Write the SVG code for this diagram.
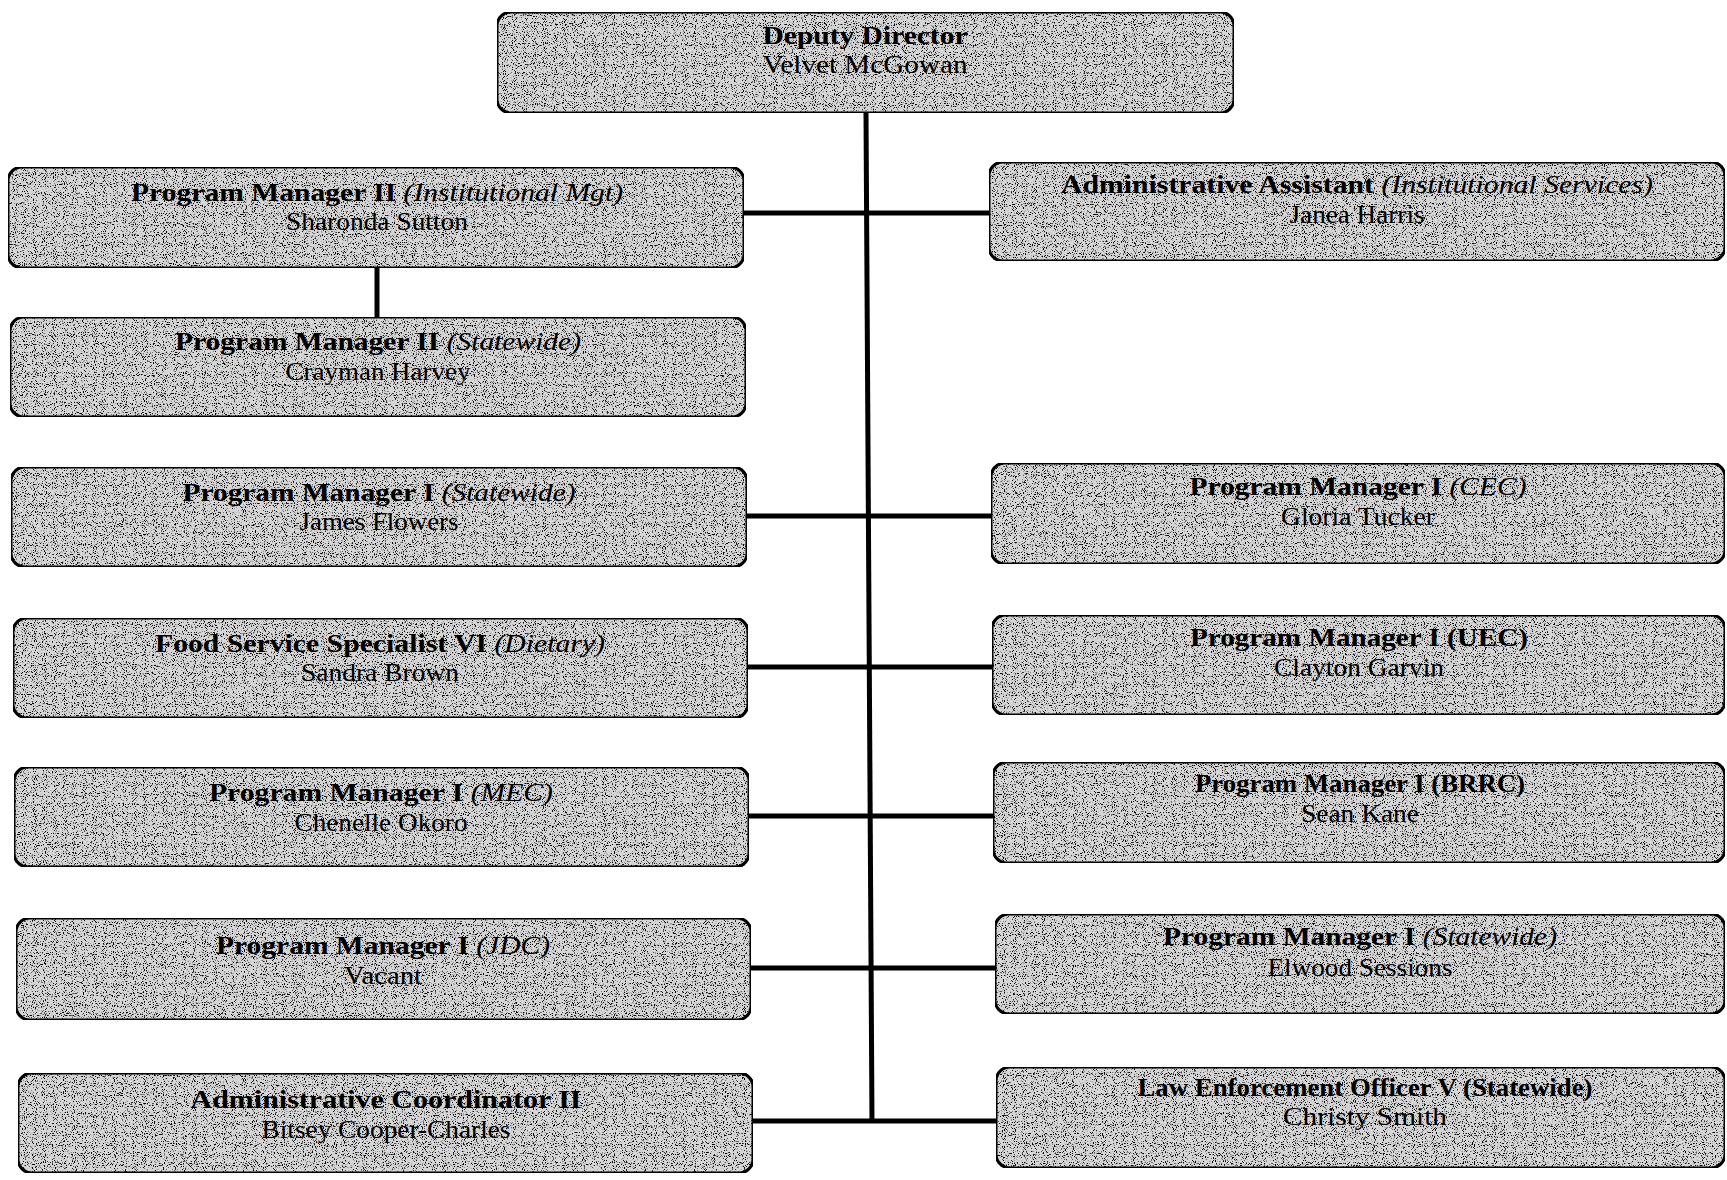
<svg xmlns="http://www.w3.org/2000/svg" width="1727" height="1180" viewBox="0 0 1727 1180">
<defs>
<filter id="stipple" x="0" y="0" width="100%" height="100%" color-interpolation-filters="sRGB">
<feTurbulence type="fractalNoise" baseFrequency="0.9" numOctaves="1" seed="7" result="noise"/>
<feColorMatrix in="noise" type="matrix" values="0 0 0 0 0  0 0 0 0 0  0 0 0 0 0  9 0 0 0 -5" result="dots"/>
<feComposite in="dots" in2="SourceGraphic" operator="in" result="clipped"/>
<feMerge><feMergeNode in="SourceGraphic"/><feMergeNode in="clipped"/></feMerge>
</filter>
</defs>
<style>
.box{fill:#d6d6d6;stroke:#000;stroke-width:3;filter:url(#stipple)}
.t{font-family:"Liberation Serif","Times New Roman",serif;font-size:25px;text-anchor:middle;fill:#000}
.b{font-weight:bold}
.i{font-style:italic;font-weight:normal}
.c{stroke:#000;fill:none;stroke-width:5}
</style>
<rect width="1727" height="1180" fill="#fff"/>
<g id="connectors">
<line class="c" x1="866" y1="113" x2="872" y2="1123" stroke-width="6"/>
<line class="c" x1="377" y1="268" x2="377" y2="317" stroke-width="4"/>
<line class="c" x1="744" y1="213" x2="989" y2="213"/>
<line class="c" x1="747" y1="516" x2="991" y2="516"/>
<line class="c" x1="748" y1="667" x2="992" y2="667"/>
<line class="c" x1="749" y1="816" x2="993" y2="816"/>
<line class="c" x1="751" y1="968" x2="995" y2="968"/>
<line class="c" x1="753" y1="1121" x2="996" y2="1121"/>
</g>
<g id="deputy-director">
<rect class="box" x="497" y="12" width="737" height="101" rx="14"/>
<text class="t b" x="865" y="44" textLength="205" lengthAdjust="spacingAndGlyphs">Deputy Director</text>
<text class="t" x="865" y="73" textLength="205" lengthAdjust="spacingAndGlyphs">Velvet McGowan</text>
</g>
<g id="pm2-institutional">
<rect class="box" x="8" y="167" width="736" height="101" rx="14"/>
<text class="t b" x="377" y="201" textLength="492" lengthAdjust="spacingAndGlyphs">Program Manager II <tspan class="i">(Institutional Mgt)</tspan></text>
<text class="t" x="377" y="230" textLength="182" lengthAdjust="spacingAndGlyphs">Sharonda Sutton</text>
</g>
<g id="pm2-statewide">
<rect class="box" x="10" y="317" width="736" height="100" rx="14"/>
<text class="t b" x="378" y="350" textLength="406" lengthAdjust="spacingAndGlyphs">Program Manager II <tspan class="i">(Statewide)</tspan></text>
<text class="t" x="378" y="380" textLength="185" lengthAdjust="spacingAndGlyphs">Crayman Harvey</text>
</g>
<g id="pm1-statewide-flowers">
<rect class="box" x="11" y="467" width="736" height="100" rx="14"/>
<text class="t b" x="379" y="501" textLength="393" lengthAdjust="spacingAndGlyphs">Program Manager I <tspan class="i">(Statewide)</tspan></text>
<text class="t" x="379" y="530" textLength="159" lengthAdjust="spacingAndGlyphs">James Flowers</text>
</g>
<g id="food-service">
<rect class="box" x="13" y="618" width="735" height="100" rx="14"/>
<text class="t b" x="380" y="652" textLength="450" lengthAdjust="spacingAndGlyphs">Food Service Specialist VI <tspan class="i">(Dietary)</tspan></text>
<text class="t" x="380" y="681" textLength="158" lengthAdjust="spacingAndGlyphs">Sandra Brown</text>
</g>
<g id="pm1-mec">
<rect class="box" x="14" y="767" width="735" height="100" rx="14"/>
<text class="t b" x="381" y="801" textLength="344" lengthAdjust="spacingAndGlyphs">Program Manager I <tspan class="i">(MEC)</tspan></text>
<text class="t" x="381" y="831" textLength="173" lengthAdjust="spacingAndGlyphs">Chenelle Okoro</text>
</g>
<g id="pm1-jdc">
<rect class="box" x="16" y="918" width="735" height="102" rx="14"/>
<text class="t b" x="383" y="954" textLength="334" lengthAdjust="spacingAndGlyphs">Program Manager I <tspan class="i">(JDC)</tspan></text>
<text class="t" x="383" y="984" textLength="78" lengthAdjust="spacingAndGlyphs">Vacant</text>
</g>
<g id="admin-coordinator">
<rect class="box" x="18" y="1073" width="735" height="100" rx="14"/>
<text class="t b" x="386" y="1108" textLength="391" lengthAdjust="spacingAndGlyphs">Administrative Coordinator II</text>
<text class="t" x="386" y="1138" textLength="249" lengthAdjust="spacingAndGlyphs">Bitsey Cooper-Charles</text>
</g>
<g id="admin-assistant">
<rect class="box" x="989" y="162" width="736" height="99" rx="14"/>
<text class="t b" x="1357" y="193" textLength="592" lengthAdjust="spacingAndGlyphs">Administrative Assistant <tspan class="i">(Institutional Services)</tspan></text>
<text class="t" x="1357" y="223" textLength="135" lengthAdjust="spacingAndGlyphs">Janea Harris</text>
</g>
<g id="pm1-cec">
<rect class="box" x="991" y="463" width="734" height="101" rx="14"/>
<text class="t b" x="1358" y="495" textLength="337" lengthAdjust="spacingAndGlyphs">Program Manager I <tspan class="i">(CEC)</tspan></text>
<text class="t" x="1358" y="525" textLength="154" lengthAdjust="spacingAndGlyphs">Gloria Tucker</text>
</g>
<g id="pm1-uec">
<rect class="box" x="992" y="615" width="733" height="100" rx="14"/>
<text class="t b" x="1359" y="646" textLength="338" lengthAdjust="spacingAndGlyphs">Program Manager I (UEC)</text>
<text class="t" x="1359" y="676" textLength="170" lengthAdjust="spacingAndGlyphs">Clayton Garvin</text>
</g>
<g id="pm1-brrc">
<rect class="box" x="993" y="762" width="732" height="101" rx="14"/>
<text class="t b" x="1360" y="792" textLength="330" lengthAdjust="spacingAndGlyphs">Program Manager I (BRRC)</text>
<text class="t" x="1360" y="822" textLength="118" lengthAdjust="spacingAndGlyphs">Sean Kane</text>
</g>
<g id="pm1-statewide-sessions">
<rect class="box" x="995" y="914" width="730" height="100" rx="14"/>
<text class="t b" x="1360" y="945" textLength="394" lengthAdjust="spacingAndGlyphs">Program Manager I <tspan class="i">(Statewide)</tspan></text>
<text class="t" x="1360" y="976" textLength="185" lengthAdjust="spacingAndGlyphs">Elwood Sessions</text>
</g>
<g id="leo-v">
<rect class="box" x="996" y="1067" width="729" height="101" rx="14"/>
<text class="t b" x="1365" y="1096" textLength="455" lengthAdjust="spacingAndGlyphs">Law Enforcement Officer V (Statewide)</text>
<text class="t" x="1365" y="1125" textLength="164" lengthAdjust="spacingAndGlyphs">Christy Smith</text>
</g>
</svg>
